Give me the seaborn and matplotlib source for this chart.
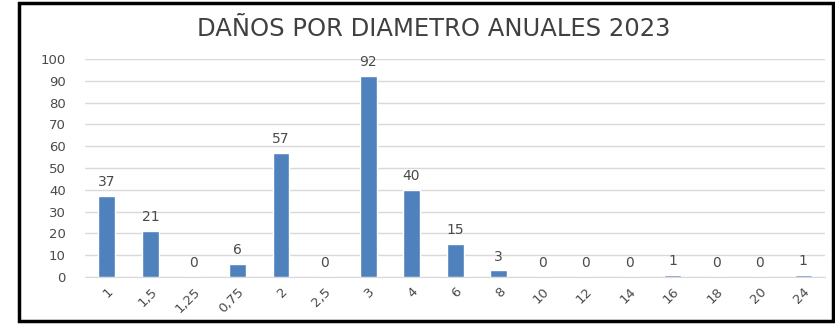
"""
Daños por diametro anuales 2023 - bar chart recreated with seaborn
"""
import pandas as pd
import matplotlib
matplotlib.use('Agg')
import matplotlib.pyplot as plt
from matplotlib.patches import Rectangle
import seaborn as sns

# Data
diametros = ['1', '1,5', '1,25', '0,75', '2', '2,5', '3', '4', '6', '8',
             '10', '12', '14', '16', '18', '20', '24']
danos = [37, 21, 0, 6, 57, 0, 92, 40, 15, 3, 0, 0, 0, 1, 0, 0, 1]
y_ticks = list(range(0, 101, 10))
titulo = "DAÑOS POR DIAMETRO ANUALES 2023"

df = pd.DataFrame({'diametro': diametros, 'danos': danos})

sns.set_style("white")
plt.rcParams['font.family'] = ['DejaVu Sans']

text_color = '#4a4a4a'
bar_color = '#4F81BD'

fig = plt.figure(figsize=(8.35, 3.24), dpi=100)
ax = fig.add_axes([0.102, 0.145, 0.886, 0.673])

sns.barplot(data=df, x='diametro', y='danos', color=bar_color,
            width=0.39, saturation=1, ax=ax, zorder=3)

# Value labels above each bar
for i, v in enumerate(danos):
    ax.annotate(str(v), (i, v), xytext=(0, 5), textcoords='offset points',
                ha='center', va='bottom', fontsize=10, color=text_color)

ax.set_ylim(0, 100)
ax.set_xlim(-0.5, len(diametros) - 0.5)
ax.set_yticks(y_ticks)
ax.yaxis.grid(True, color='#D9D9D9', linewidth=1, zorder=0)
ax.set_xlabel('')
ax.set_ylabel('')
ax.tick_params(axis='y', labelsize=9.5, colors=text_color, length=0, pad=14)
ax.tick_params(axis='x', labelsize=9.5, colors=text_color, length=0, pad=6)
plt.setp(ax.get_xticklabels(), rotation=45, ha='right', rotation_mode='anchor')
for side in ['top', 'right', 'left']:
    ax.spines[side].set_visible(False)
ax.spines['bottom'].set_color('#D9D9D9')

fig.text(0.52, 0.912, titulo, ha='center', va='center', fontsize=17.5,
         color='#404040')

# Outer frame around the chart
fig.patches.append(Rectangle((0.023, 0.008), 0.975, 0.982, transform=fig.transFigure,
                             fill=False, edgecolor='black', linewidth=2.5))

fig.savefig('out.png', dpi=100)
